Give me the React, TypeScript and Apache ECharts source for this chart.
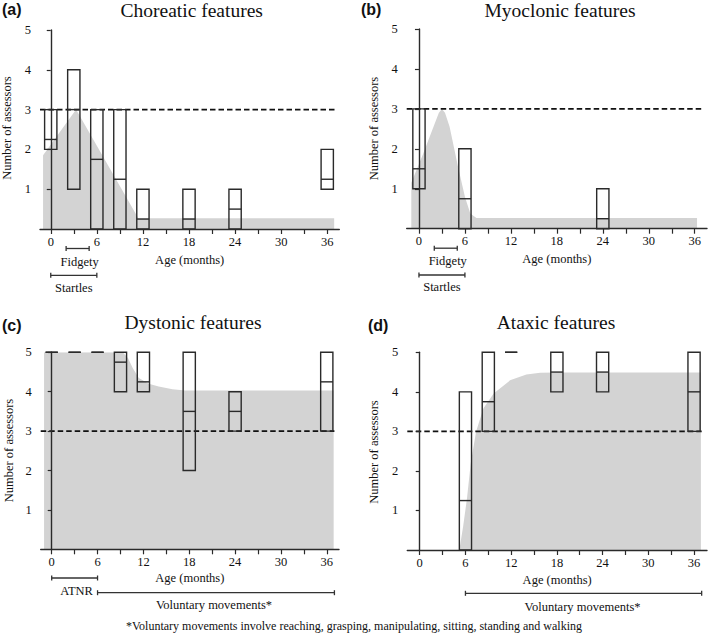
import React, { useEffect, useRef } from "react";
import * as echarts from "echarts";

// ---------- data ----------
const panelTitles = ["Choreatic features", "Myoclonic features", "Dystonic features", "Ataxic features"];
const panelLetters = ["(a)", "(b)", "(c)", "(d)"];
const xAxisName = "Age (months)";
const yAxisName = "Number of assessors";
const footnote = "*Voluntary movements involve reaching, grasping, manipulating, sitting, standing and walking";

const xTickValues = [0, 3, 6, 9, 12, 15, 18, 21, 24, 27, 30, 33, 36];
const xLabelValues = [0, 6, 12, 18, 24, 30, 36];
const yTickValues = [1, 2, 3, 4, 5];
const thresholdValue = 3;
const thresholdEnd = 37;

// shaded area [month, value]
const choreaArea = [[-1, 1.85], [3.3, 3.0], [11.4, 0.27], [36.9, 0.27]];
const myoArea = [[-1, 1.15], [0.6, 1.9], [1.9, 2.55], [2.6, 2.9], [3, 3.0], [3.4, 2.9], [4, 2.55], [5.1, 1.55], [6, 0.8], [6.7, 0.38], [7.5, 0.27], [36.3, 0.27]];
const dystArea = [[-1, 5], [9.3, 5], [10, 4.85], [10.6, 4.6], [11.4, 4.35], [12.7, 4.2], [14, 4.13], [15.8, 4.06], [17.5, 4.03], [36.9, 4.03]];
const ataxArea = [[5.2, 0], [5.7, 0.6], [6.2, 1.3], [6.7, 2.2], [7.4, 3.0], [8.35, 3.58], [9.7, 3.96], [11.85, 4.29], [14, 4.44], [15.8, 4.48], [18, 4.49], [36.9, 4.49]];

// boxes [month, low, median, high]
const choreaBoxes = [[0, 2, 2.25, 3], [3, 1, 3, 4], [6, 0, 1.75, 3], [9, 0, 1.25, 3], [12, 0, 0.25, 1], [18, 0, 0.25, 1], [24, 0, 0.5, 1], [36, 1, 1.25, 2]];
const myoBoxes = [[0, 1, 1.5, 3], [6, 0, 0.75, 2], [24, 0, 0.25, 1]];
const dystBoxes = [[0, 5, 5, 5], [3, 5, 5, 5], [6, 5, 5, 5], [9, 4, 4.75, 5], [12, 4, 4.25, 5], [18, 2, 3.5, 5], [24, 3, 3.5, 4], [36, 3, 4.25, 5]];
const ataxBoxes = [[6, 0, 1.25, 4], [9, 3, 3.75, 5], [12, 5, 5, 5], [18, 4, 4.5, 5], [24, 4, 4.5, 5], [36, 3, 4, 5]];

// developmental periods [start month, end month]
const periodLabelsAB = ["Fidgety", "Startles"];
const periodRangesAB = [[2, 5], [0, 6]];
const periodLabelsC = ["ATNR", "Voluntary movements*"];
const periodRangesC = [[0, 6], [6, 37]];
const periodLabelsD = ["Voluntary movements*"];
const periodRangesD = [[6, 37]];

// ---------- layout / style ----------
const FONT = "Liberation Serif, Times New Roman, serif";
const TEXT = "#111";
const AXIS = "#2a2a2a";
const GRAY = "#d3d3d3";
const BOX_HALF = 0.8;

const layouts = [
  { left: 40, top: 30, width: 299.3, height: 199, xMin: -1.4, xMax: 37.57, nameGap: 24 },
  { left: 406.7, top: 29, width: 300.3, height: 199.7, xMin: -1.6, xMax: 37.6, nameGap: 24 },
  { left: 40.7, top: 352.3, width: 298.3, height: 197, xMin: -1.44, xMax: 37.6, nameGap: 22.5 },
  { left: 407.3, top: 352.3, width: 299.7, height: 197.7, xMin: -1.63, xMax: 37.7, nameGap: 23 },
];

// pixel offsets below the x axis: [line, label, label shift] for each period row
const periodOffsets = [
  [[19.5, 32.5, 2], [46.3, 58.5, 0]],
  [[19.5, 32.5, 2], [46.3, 58.5, 0]],
  [[28.7, 41.4, 2], [43.4, 55.7, -2]],
  [[43.3, 56.7, -1]],
];

const titlePos = [[191.7, 10], [560, 10], [193, 322.5], [556, 322.5]];
const letterPos = [[2, 9.5], [361, 9.5], [2, 325], [368, 325]];
const yNamePos = [[6.5, 128], [374, 128.5], [8.5, 450.5], [373.5, 452]];

const areas = [choreaArea, myoArea, dystArea, ataxArea];
const boxes = [choreaBoxes, myoBoxes, dystBoxes, ataxBoxes];
const periodLabels = [periodLabelsAB, periodLabelsAB, periodLabelsC, periodLabelsD];
const periodRanges = [periodRangesAB, periodRangesAB, periodRangesC, periodRangesD];

function buildOption() {
  const grid: any[] = [];
  const xAxis: any[] = [];
  const yAxis: any[] = [];
  const series: any[] = [];
  const graphic: any[] = [];

  layouts.forEach((L, i) => {
    grid.push({ left: L.left, top: L.top, width: L.width, height: L.height, containLabel: false });
    xAxis.push({
      type: "value",
      gridIndex: i,
      min: L.xMin,
      max: L.xMax,
      z: 10,
      axisLine: { show: true, onZero: false, lineStyle: { color: AXIS, width: 1.4 } },
      axisTick: { show: true, customValues: xTickValues, length: 5, lineStyle: { color: AXIS, width: 1.2 } },
      axisLabel: { customValues: xLabelValues, margin: 6, fontFamily: FONT, fontSize: 12.5, color: TEXT },
      splitLine: { show: false },
      name: xAxisName,
      nameLocation: "middle",
      nameGap: L.nameGap,
      nameTextStyle: { fontFamily: FONT, fontSize: 12.5, color: TEXT },
    });
    yAxis.push({
      type: "value",
      gridIndex: i,
      min: 0,
      max: 5,
      z: 10,
      axisLine: { show: true, lineStyle: { color: AXIS, width: 1.4 } },
      axisTick: { show: true, customValues: yTickValues, length: 4, lineStyle: { color: AXIS, width: 1.2 } },
      axisLabel: { customValues: yTickValues, margin: 9, fontFamily: FONT, fontSize: 12.5, color: TEXT },
      splitLine: { show: false },
    });

    series.push({
      type: "line",
      xAxisIndex: i,
      yAxisIndex: i,
      data: areas[i],
      symbol: "none",
      lineStyle: { width: 0, opacity: 0 },
      areaStyle: { color: GRAY, opacity: 1 },
      z: 1,
      silent: true,
    });
    series.push({
      type: "line",
      xAxisIndex: i,
      yAxisIndex: i,
      data: [[L.xMin, thresholdValue], [thresholdEnd, thresholdValue]],
      symbol: "none",
      lineStyle: { color: "#111", width: 1.6, type: [5.5, 3] },
      z: 2,
      silent: true,
    });
    series.push({
      type: "custom",
      xAxisIndex: i,
      yAxisIndex: i,
      coordinateSystem: "cartesian2d",
      data: boxes[i],
      encode: { x: 0, y: [1, 2, 3] },
      z: 3,
      clip: false,
      silent: true,
      renderItem: (params: any, api: any) => {
        const x = api.value(0);
        const lo = api.value(1);
        const med = api.value(2);
        const hi = api.value(3);
        const p1 = api.coord([x - BOX_HALF, hi]);
        const p2 = api.coord([x + BOX_HALF, lo]);
        const m = api.coord([x, med]);
        const st = { fill: "none", stroke: AXIS, lineWidth: 1.4 };
        return {
          type: "group",
          children: [
            { type: "polygon", shape: { points: [[p1[0], p1[1]], [p2[0], p1[1]], [p2[0], p2[1]], [p1[0], p2[1]]] }, style: st },
            { type: "line", shape: { x1: p1[0], y1: m[1], x2: p2[0], y2: m[1] }, style: { stroke: AXIS, lineWidth: 1.4 } },
          ],
        };
      },
    });
    const labels = periodLabels[i];
    const offs = periodOffsets[i];
    series.push({
      type: "custom",
      xAxisIndex: i,
      yAxisIndex: i,
      coordinateSystem: "cartesian2d",
      data: periodRanges[i].map((r, k) => [r[0], r[1], k]),
      encode: { x: [0, 1] },
      z: 3,
      clip: false,
      silent: true,
      renderItem: (params: any, api: any) => {
        const k = api.value(2);
        const a = api.coord([api.value(0), 0]);
        const b = api.coord([api.value(1), 0]);
        const [lineOff, labelOff, dx] = offs[k];
        const y = a[1] + lineOff;
        const st = { stroke: "#333", lineWidth: 1.3 };
        return {
          type: "group",
          children: [
            { type: "line", shape: { x1: a[0], y1: y, x2: b[0], y2: y }, style: st },
            { type: "line", shape: { x1: a[0], y1: y - 2.5, x2: a[0], y2: y + 2.5 }, style: st },
            { type: "line", shape: { x1: b[0], y1: y - 2.5, x2: b[0], y2: y + 2.5 }, style: st },
            {
              type: "text",
              style: {
                text: labels[k],
                x: (a[0] + b[0]) / 2 + dx,
                y: a[1] + labelOff,
                align: "center",
                verticalAlign: "middle",
                font: `12.5px ${FONT}`,
                fill: TEXT,
              },
            },
          ],
        };
      },
    });

    graphic.push({
      type: "text",
      x: titlePos[i][0],
      y: titlePos[i][1],
      style: { text: panelTitles[i], font: `19.5px ${FONT}`, fill: TEXT, textAlign: "center", textVerticalAlign: "middle" },
    });
    graphic.push({
      type: "text",
      x: letterPos[i][0],
      y: letterPos[i][1],
      style: { text: panelLetters[i], font: "bold 16px Liberation Sans, Arial, sans-serif", fill: "#111", textAlign: "left", textVerticalAlign: "middle" },
    });
    graphic.push({
      type: "text",
      x: yNamePos[i][0],
      y: yNamePos[i][1],
      rotation: Math.PI / 2,
      style: { text: yAxisName, font: `12.5px ${FONT}`, fill: TEXT, textAlign: "center", textVerticalAlign: "middle" },
    });
  });

  graphic.push({
    type: "text",
    x: 354,
    y: 626,
    style: { text: footnote, font: `12px ${FONT}`, fill: TEXT, textAlign: "center", textVerticalAlign: "middle" },
  });

  return { animation: false, backgroundColor: "#ffffff", grid, xAxis, yAxis, series, graphic };
}

export default function App() {
  const ref = useRef<HTMLDivElement>(null);
  useEffect(() => {
    if (!ref.current) return;
    const chart = echarts.init(ref.current, undefined, { renderer: "svg" });
    chart.setOption(buildOption() as any);
    return () => chart.dispose();
  }, []);
  return <div ref={ref} style={{ position: "fixed", left: 0, top: 0, width: 709, height: 636 }} />;
}
